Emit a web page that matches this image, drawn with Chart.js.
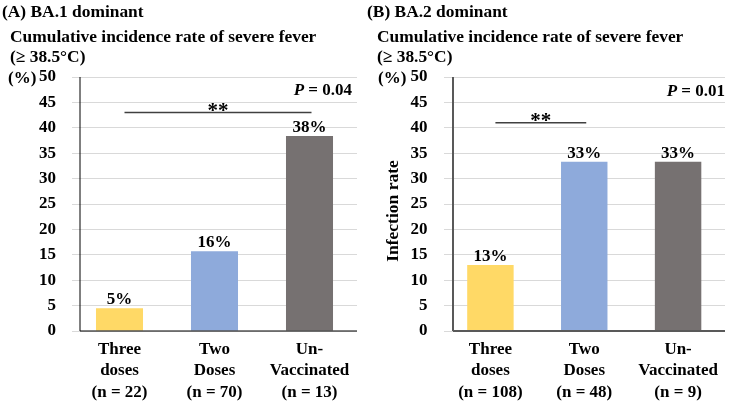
<!DOCTYPE html>
<html><head><meta charset="utf-8">
<script src="https://cdn.jsdelivr.net/npm/chart.js@4"></script>
<style>
body{margin:0;width:729px;height:402px;position:relative;background:#fff;overflow:hidden;font-family:"Liberation Serif","Times New Roman",serif;font-weight:bold;color:#000}
.t{position:absolute;font-size:17px;line-height:20px;white-space:nowrap}
.h{font-size:17.4px}
canvas{position:absolute;top:0}
</style></head><body>
<canvas id="ca" width="365" height="402" style="left:0"></canvas>
<canvas id="cb" width="364" height="402" style="left:365px"></canvas>
<div class="t h" style="left:2px;top:1px">(A) BA.1 dominant</div>
<div class="t h" style="left:10px;top:26px">Cumulative incidence rate of severe fever</div>
<div class="t h" style="left:10px;top:46px">(≥ 38.5°C)</div>
<div class="t" style="left:8px;top:68px">(%)</div>
<div class="t h" style="left:367px;top:1px">(B) BA.2 dominant</div>
<div class="t h" style="left:377px;top:26px">Cumulative incidence rate of severe fever</div>
<div class="t h" style="left:377px;top:46px">(≥ 38.5°C)</div>
<div class="t" style="left:378px;top:68px">(%)</div>
<div class="t" style="right:377px;top:80px"><i>P</i> = 0.04</div>
<div class="t" style="right:4px;top:81px"><i>P</i> = 0.01</div>
<script>
const categoriesA = [['Three','doses','(n = 22)'],['Two','Doses','(n = 70)'],['Un-','Vaccinated','(n = 13)']];
const valuesA = [4.5, 15.7, 38.4];
const pctLabelsA = ['5%','16%','38%'];
const sigA = {from:0, to:2, y:43, text:'**'};

const categoriesB = [['Three','doses','(n = 108)'],['Two','Doses','(n = 48)'],['Un-','Vaccinated','(n = 9)']];
const valuesB = [13.0, 33.3, 33.3];
const pctLabelsB = ['13%','33%','33%'];
const sigB = {from:0, to:1, y:41, text:'**'};

const yTicks = [0,5,10,15,20,25,30,35,40,45,50];
const barColors = ['#FFD966','#8EAADB','#767171'];

const FONT = {family:'"Liberation Serif","Times New Roman",serif', size:17, weight:'bold', lineHeight:1.25};
const CFONT = 'bold 17px "Liberation Serif","Times New Roman",serif';

function make(id, cats, vals, pct, sig, o){
  const plugin = {
    id:'extras',
    afterDatasetsDraw(chart){
      const ctx = chart.ctx, ca = chart.chartArea;
      const xs = chart.scales.x, ys = chart.scales.y;
      ctx.save();
      ctx.strokeStyle = o.axisColor; ctx.lineWidth = o.axisWidth;
      const ax = ca.left + o.axisOffset;
      ctx.beginPath();
      ctx.moveTo(ax, ca.top); ctx.lineTo(ax, ca.bottom);
      ctx.moveTo(ax, ca.bottom); ctx.lineTo(ca.right, ca.bottom);
      ctx.stroke();
      ctx.font = CFONT; ctx.fillStyle = '#000'; ctx.textAlign = 'center'; ctx.textBaseline = 'alphabetic';
      const meta = chart.getDatasetMeta(0);
      meta.data.forEach((b,i)=>{ ctx.fillText(pct[i], b.x, b.y - 4); });
      const x1 = xs.getPixelForValue(sig.from) + 5, x2 = xs.getPixelForValue(sig.to) + 2;
      const y = ys.getPixelForValue(sig.y);
      ctx.strokeStyle = '#404040'; ctx.lineWidth = 1.5;
      ctx.beginPath(); ctx.moveTo(x1,y); ctx.lineTo(x2,y); ctx.stroke();
      ctx.font = 'bold 21px "Liberation Serif","Times New Roman",serif';
      ctx.fillText(sig.text, (x1+x2)/2, y + 4);
      if (o.yTitle) {
        ctx.save();
        ctx.translate(o.yTitle.x, (ca.top + ca.bottom)/2 + o.yTitle.dy);
        ctx.rotate(-Math.PI/2);
        ctx.font = 'bold 17.5px "Liberation Serif","Times New Roman",serif';
        ctx.textBaseline = 'middle';
        ctx.fillText(o.yTitle.text, 0, 0);
        ctx.restore();
      }
      ctx.restore();
    }
  };
  return new Chart(document.getElementById(id), {
    type:'bar',
    data:{labels:cats, datasets:[{data:vals, backgroundColor:barColors, categoryPercentage:1, barPercentage:0.495}]},
    options:{
      responsive:false, animation:false,
      layout:{padding:{top:77, right:o.padRight, bottom:0, left:0}},
      plugins:{legend:{display:false}, tooltip:{enabled:false}},
      scales:{
        x:{grid:{display:false, drawTicks:false}, border:{display:false},
           ticks:{font:FONT, color:'#000', padding:8, maxRotation:0, autoSkip:false},
           afterFit(s){ s.height = 71; }},
        y:{min:0, max:50, afterBuildTicks(s){ s.ticks = yTicks.map(v=>({value:v})); },
           grid:{color:'#D9D9D9', drawTicks:false, lineWidth:1}, border:{display:false},
           ticks:{font:FONT, color:'#000', padding:16},
           afterFit(s){ s.width = o.yWidth; }}
      }
    },
    plugins:[plugin]
  });
}
make('ca', categoriesA, valuesA, pctLabelsA, sigA, {padRight:8, yWidth:72, axisOffset:8, axisColor:'#000', axisWidth:1});
make('cb', categoriesB, valuesB, pctLabelsB, sigB, {padRight:4, yWidth:78.5, axisOffset:9.5, axisColor:'#595959', axisWidth:2,
  yTitle:{text:'Infection rate', x:28, dy:7}});
</script>
</body></html>
